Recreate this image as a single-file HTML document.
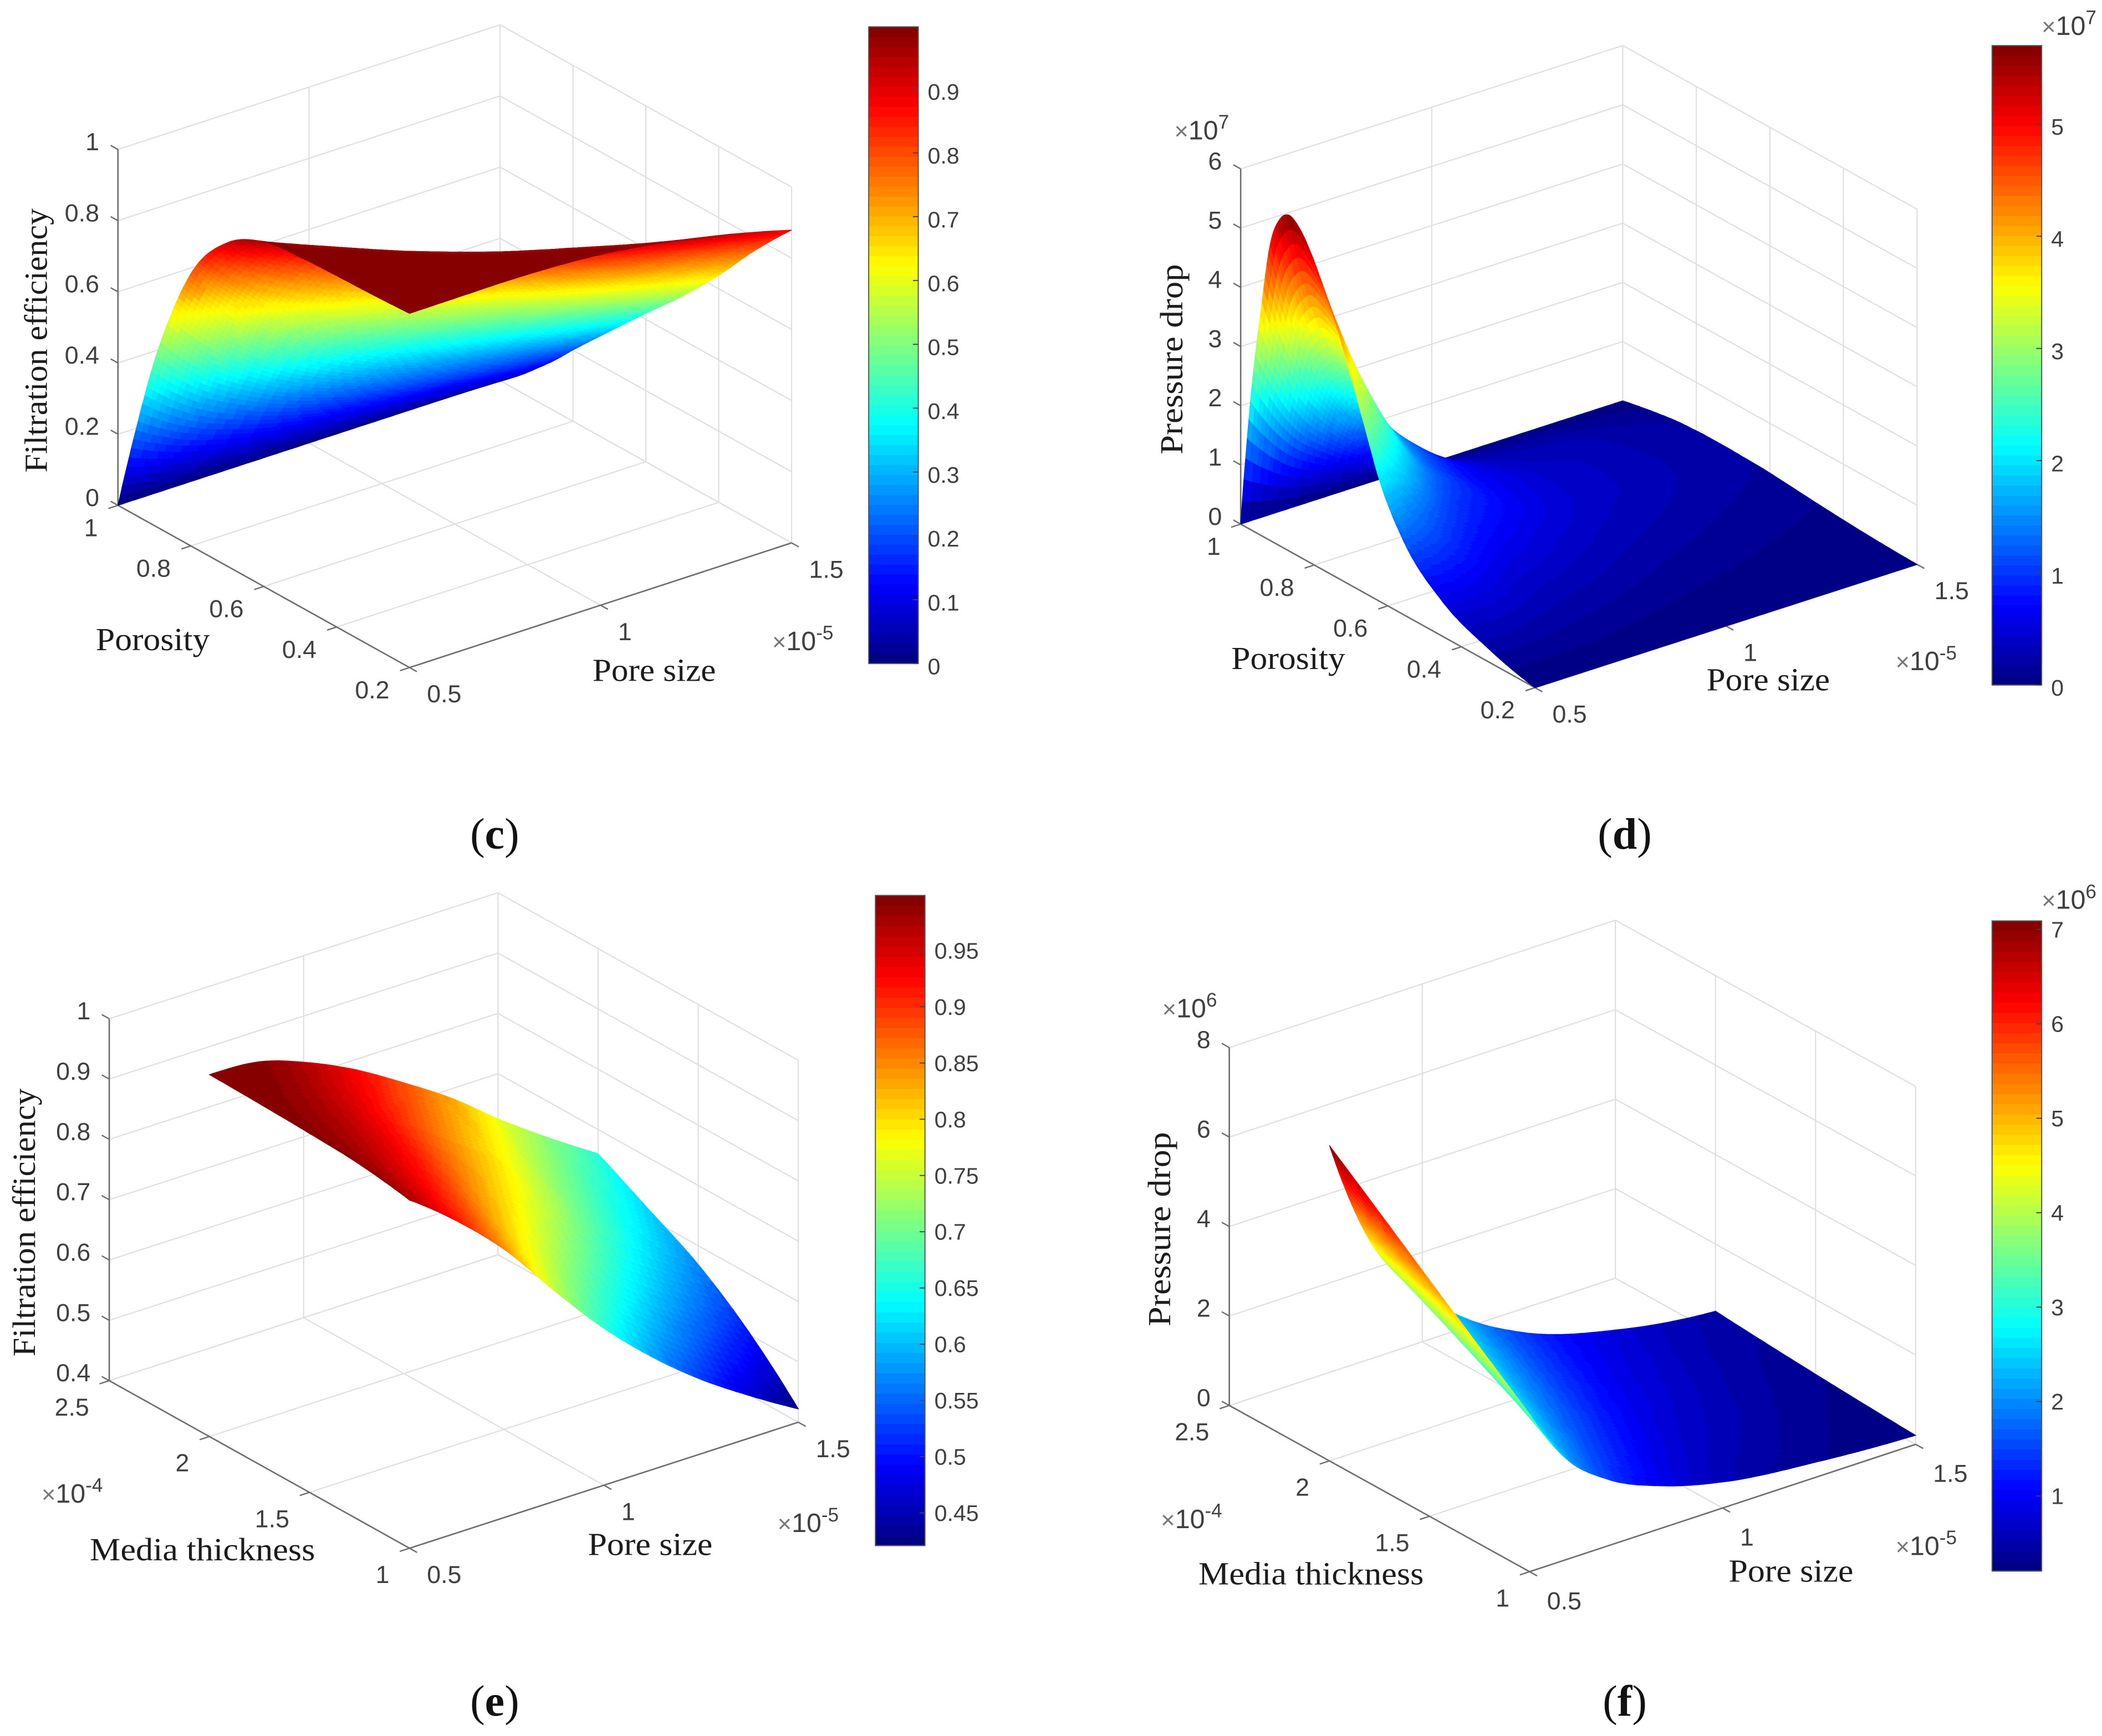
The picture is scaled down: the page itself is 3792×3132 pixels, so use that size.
<!DOCTYPE html>
<html lang="en">
<head>
<meta charset="utf-8">
<title>Filtration efficiency and pressure drop surfaces</title>
<style>
html,body{margin:0;padding:0;background:#fff;}
svg{display:block;}
.axis-title{font-family:"Liberation Serif",serif;font-size:24px;fill:#1c1c1c;}
.caption{font-family:"Liberation Serif",serif;font-size:33px;fill:#111;}
.caption .letter{font-weight:bold;}
.mult{font-family:"Liberation Sans",sans-serif;font-size:20px;fill:#404040;}
.mult .times{font-size:18px;fill:#777;}
.mult .exp{font-size:14.5px;}
</style>
</head>
<body>
<svg id="figure" xmlns="http://www.w3.org/2000/svg" width="3792" height="3132" viewBox="0 0 1568 1295.08">
<rect x="0" y="0" width="1568" height="1296" fill="#fff"/>

<g id="panel-c"></g>
<g id="panel-d"></g>
<g id="panel-e"></g>
<g id="panel-f"></g>

<!-- panel c text -->
<text class="axis-title" transform="translate(35,254) rotate(-90)" text-anchor="middle" textLength="197" lengthAdjust="spacingAndGlyphs">Filtration efficiency</text>
<text class="axis-title" x="114" y="485" text-anchor="middle" textLength="85" lengthAdjust="spacingAndGlyphs">Porosity</text>
<text class="axis-title" x="488" y="508" text-anchor="middle" textLength="92" lengthAdjust="spacingAndGlyphs">Pore size</text>
<text class="mult" x="576" y="485"><tspan class="times">×</tspan>10<tspan class="exp" dy="-8">-5</tspan></text>
<text class="caption" x="369" y="633" text-anchor="middle">(<tspan class="letter">c</tspan>)</text>

<!-- panel d text -->
<text class="axis-title" transform="translate(882,268) rotate(-90)" text-anchor="middle" textLength="142" lengthAdjust="spacingAndGlyphs">Pressure drop</text>
<text class="axis-title" x="961" y="499" text-anchor="middle" textLength="85" lengthAdjust="spacingAndGlyphs">Porosity</text>
<text class="axis-title" x="1319" y="515" text-anchor="middle" textLength="92" lengthAdjust="spacingAndGlyphs">Pore size</text>
<text class="mult" x="1414" y="500"><tspan class="times">×</tspan>10<tspan class="exp" dy="-8">-5</tspan></text>
<text class="mult" x="876" y="104"><tspan class="times">×</tspan>10<tspan class="exp" dy="-8">7</tspan></text>
<text class="mult" x="1523" y="26"><tspan class="times">×</tspan>10<tspan class="exp" dy="-8">7</tspan></text>
<text class="caption" x="1212" y="633" text-anchor="middle">(<tspan class="letter">d</tspan>)</text>

<!-- panel e text -->
<text class="axis-title" transform="translate(26,912) rotate(-90)" text-anchor="middle" textLength="200" lengthAdjust="spacingAndGlyphs">Filtration efficiency</text>
<text class="axis-title" x="151" y="1164" text-anchor="middle" textLength="168" lengthAdjust="spacingAndGlyphs">Media thickness</text>
<text class="axis-title" x="485" y="1160" text-anchor="middle" textLength="93" lengthAdjust="spacingAndGlyphs">Pore size</text>
<text class="mult" x="580" y="1143"><tspan class="times">×</tspan>10<tspan class="exp" dy="-8">-5</tspan></text>
<text class="mult" x="31" y="1121"><tspan class="times">×</tspan>10<tspan class="exp" dy="-8">-4</tspan></text>
<text class="caption" x="369" y="1280" text-anchor="middle">(<tspan class="letter">e</tspan>)</text>

<!-- panel f text -->
<text class="axis-title" transform="translate(873,917) rotate(-90)" text-anchor="middle" textLength="145" lengthAdjust="spacingAndGlyphs">Pressure drop</text>
<text class="axis-title" x="978" y="1182" text-anchor="middle" textLength="168" lengthAdjust="spacingAndGlyphs">Media thickness</text>
<text class="axis-title" x="1336" y="1180" text-anchor="middle" textLength="93" lengthAdjust="spacingAndGlyphs">Pore size</text>
<text class="mult" x="1414" y="1160"><tspan class="times">×</tspan>10<tspan class="exp" dy="-8">-5</tspan></text>
<text class="mult" x="866" y="1140"><tspan class="times">×</tspan>10<tspan class="exp" dy="-8">-4</tspan></text>
<text class="mult" x="867" y="759"><tspan class="times">×</tspan>10<tspan class="exp" dy="-8">6</tspan></text>
<text class="mult" x="1523" y="678"><tspan class="times">×</tspan>10<tspan class="exp" dy="-8">6</tspan></text>
<text class="caption" x="1212" y="1280" text-anchor="middle">(<tspan class="letter">f</tspan>)</text>
</svg>

<script>
/* ---------- tick values and labels ---------- */
var poreTicks = [0.5, 1, 1.5];
var poreTickLabels = ['0.5', '1', '1.5'];
var porosityTicks = [0.2, 0.4, 0.6, 0.8, 1];
var porosityTickLabels = ['0.2', '0.4', '0.6', '0.8', '1'];
var thicknessTicks = [1, 1.5, 2, 2.5];
var thicknessTickLabels = ['1', '1.5', '2', '2.5'];

var effZTicksC = [0, 0.2, 0.4, 0.6, 0.8, 1];
var effZTickLabelsC = ['0', '0.2', '0.4', '0.6', '0.8', '1'];
var dropZTicksD = [0, 1, 2, 3, 4, 5, 6];
var dropZTickLabelsD = ['0', '1', '2', '3', '4', '5', '6'];
var effZTicksE = [0.4, 0.5, 0.6, 0.7, 0.8, 0.9, 1];
var effZTickLabelsE = ['0.4', '0.5', '0.6', '0.7', '0.8', '0.9', '1'];
var dropZTicksF = [0, 2, 4, 6, 8];
var dropZTickLabelsF = ['0', '2', '4', '6', '8'];

var colorbarTicksC = [0, 0.1, 0.2, 0.3, 0.4, 0.5, 0.6, 0.7, 0.8, 0.9];
var colorbarLabelsC = ['0', '0.1', '0.2', '0.3', '0.4', '0.5', '0.6', '0.7', '0.8', '0.9'];
var colorbarTicksD = [0, 1, 2, 3, 4, 5];
var colorbarLabelsD = ['0', '1', '2', '3', '4', '5'];
var colorbarTicksE = [0.45, 0.5, 0.55, 0.6, 0.65, 0.7, 0.75, 0.8, 0.85, 0.9, 0.95];
var colorbarLabelsE = ['0.45', '0.5', '0.55', '0.6', '0.65', '0.7', '0.75', '0.8', '0.85', '0.9', '0.95'];
var colorbarTicksF = [1, 2, 3, 4, 5, 6, 7];
var colorbarLabelsF = ['1', '2', '3', '4', '5', '6', '7'];

/* ---------- surface values ---------- */
var surfacePoreC = [0.5, 0.625, 0.75, 1, 1.25, 1.5];
var surfacePorosityC = [0.2, 0.3, 0.4, 0.5, 0.6, 0.7, 0.8, 0.85, 0.9, 0.95, 1];
var efficiencyC = [
  [0.995, 0.996, 0.997, 0.985, 0.944, 0.879],
  [0.990, 0.994, 0.991, 0.945, 0.861, 0.765],
  [0.987, 0.989, 0.963, 0.869, 0.750, 0.638],
  [0.982, 0.962, 0.909, 0.772, 0.635, 0.522],
  [0.968, 0.908, 0.826, 0.660, 0.520, 0.417],
  [0.909, 0.806, 0.699, 0.522, 0.396, 0.309],
  [0.765, 0.628, 0.516, 0.360, 0.263, 0.200],
  [0.632, 0.493, 0.393, 0.265, 0.189, 0.143],
  [0.462, 0.343, 0.267, 0.174, 0.122, 0.091],
  [0.244, 0.173, 0.131, 0.083, 0.057, 0.042],
  [0, 0, 0, 0, 0, 0]
];

var surfacePoreD = [0.5, 0.6, 0.7, 0.85, 1, 1.25, 1.5];
var surfacePorosityD = [0.2, 0.33, 0.45, 0.56, 0.62, 0.67, 0.726, 0.78, 0.81, 0.84, 0.87, 0.895, 0.92, 0.945, 0.97, 1];
var pressureD = [
  [0.00, 0.00, 0.00, 0, 0, 0, 0],
  [0.23, 0.22, 0.19, 0.14, 0.10, 0.06, 0.03],
  [0.58, 0.55, 0.42, 0.32, 0.23, 0.14, 0.08],
  [1.27, 1.05, 0.75, 0.52, 0.37, 0.23, 0.14],
  [2.00, 1.40, 0.97, 0.65, 0.45, 0.28, 0.17],
  [2.95, 1.95, 1.20, 0.75, 0.50, 0.31, 0.18],
  [4.00, 2.60, 1.55, 0.83, 0.52, 0.32, 0.19],
  [4.85, 3.05, 1.80, 0.88, 0.53, 0.32, 0.19],
  [5.25, 3.25, 1.95, 0.93, 0.51, 0.31, 0.18],
  [5.55, 3.35, 2.05, 0.98, 0.48, 0.30, 0.17],
  [5.67, 3.40, 2.10, 1.00, 0.44, 0.28, 0.15],
  [5.50, 3.25, 2.00, 0.95, 0.38, 0.24, 0.125],
  [5.00, 2.95, 1.82, 0.82, 0.32, 0.20, 0.10],
  [3.80, 2.20, 1.38, 0.62, 0.24, 0.15, 0.07],
  [2.40, 1.38, 0.85, 0.38, 0.15, 0.09, 0.04],
  [0, 0, 0, 0, 0, 0, 0]
];

var surfacePoreE = [0.5, 0.625, 0.75, 0.875, 1, 1.125, 1.25, 1.375, 1.5];
var surfaceThicknessE = [1, 1.25, 1.5, 1.75, 2];
var efficiencyE = [
  [0.977, 0.915, 0.840, 0.747, 0.660, 0.586, 0.523, 0.470, 0.422],
  [0.990, 0.943, 0.885, 0.811, 0.738, 0.671, 0.609, 0.555, 0.505],
  [0.995, 0.965, 0.919, 0.860, 0.798, 0.737, 0.675, 0.620, 0.569],
  [0.998, 0.980, 0.944, 0.895, 0.840, 0.784, 0.721, 0.666, 0.615],
  [1.000, 0.995, 0.968, 0.930, 0.882, 0.830, 0.768, 0.712, 0.660]
];

var surfacePoreF = [0.5, 0.6, 0.7, 0.85, 1, 1.25, 1.5];
var surfaceThicknessF = [1, 1.25, 1.5, 1.75, 2];
var pressureF = [
  [3.52, 2.20, 1.50, 0.92, 0.58, 0.33, 0.20],
  [4.40, 2.83, 1.98, 1.24, 0.80, 0.45, 0.26],
  [5.28, 3.45, 2.45, 1.56, 1.02, 0.57, 0.33],
  [6.17, 4.08, 2.93, 1.88, 1.23, 0.68, 0.41],
  [7.05, 4.70, 3.40, 2.20, 1.45, 0.80, 0.50]
];

/* ---------- helpers ---------- */
var NS = 'http://www.w3.org/2000/svg';

function jetColor(t) {
  var level = Math.min(63, Math.max(0, Math.floor(t * 64)));
  var v = (level + 0.5) / 64;
  function ch(c) {
    var a = 1.5 - Math.abs(4 * v - c);
    a = Math.max(0, Math.min(1, a));
    return Math.round(a * 255);
  }
  return 'rgb(' + ch(3) + ',' + ch(2) + ',' + ch(1) + ')';
}

function smoothInterp(xs, ys, x) {
  var n = xs.length, i = 0;
  while (i < n - 2 && x > xs[i + 1]) i++;
  var h = [], d = [];
  for (var k = 0; k < n - 1; k++) {
    h.push(xs[k + 1] - xs[k]);
    d.push((ys[k + 1] - ys[k]) / h[k]);
  }
  function endSlope(h0, h1, d0, d1) {
    var s = ((2 * h0 + h1) * d0 - h0 * d1) / (h0 + h1);
    if (s * d0 <= 0) return 0;
    return s;
  }
  function slope(j) {
    if (j === 0) return endSlope(h[0], h[1], d[0], d[1]);
    if (j === n - 1) return endSlope(h[n - 2], h[n - 3], d[n - 2], d[n - 3]);
    var c = (h[j] * d[j - 1] + h[j - 1] * d[j]) / (h[j - 1] + h[j]);
    var m = Math.min(Math.abs(d[j - 1]), Math.abs(d[j]));
    var limit = d[j - 1] * d[j] > 0 ? 3 * m : m;
    return Math.max(-limit, Math.min(limit, c));
  }
  var hh = h[i], t = (x - xs[i]) / hh;
  var t2 = t * t, t3 = t2 * t;
  return (2 * t3 - 3 * t2 + 1) * ys[i] + (t3 - 2 * t2 + t) * hh * slope(i) +
         (-2 * t3 + 3 * t2) * ys[i + 1] + (t3 - t2) * hh * slope(i + 1);
}

function makeProjection(origin, ex, ey, ez, xRange, yRange, zRange) {
  return function (x, y, z) {
    var u = (x - xRange[0]) / (xRange[1] - xRange[0]);
    var v = (y - yRange[0]) / (yRange[1] - yRange[0]);
    var w = (z - zRange[0]) / (zRange[1] - zRange[0]);
    return [origin[0] + u * ex[0] + v * ey[0] + w * ez[0],
            origin[1] + u * ex[1] + v * ey[1] + w * ez[1]];
  };
}

function addLine(g, a, b, color, width, name) {
  var el = document.createElementNS(NS, 'line');
  
  
  el.setAttribute('x1', a[0].toFixed(2));
  el.setAttribute('y1', a[1].toFixed(2));
  el.setAttribute('x2', b[0].toFixed(2));
  el.setAttribute('y2', b[1].toFixed(2));
  el.setAttribute('stroke', color);
  el.setAttribute('stroke-width', width);
  g.appendChild(el);
}

function addLabel(g, x, y, str, anchor, size, name) {
  var el = document.createElementNS(NS, 'text');
  
  
  el.setAttribute('x', x.toFixed(2));
  el.setAttribute('y', y.toFixed(2));
  el.setAttribute('text-anchor', anchor);
  el.setAttribute('font-family', '"Liberation Sans", sans-serif');
  el.setAttribute('font-size', size);
  el.setAttribute('fill', '#404040');
  el.textContent = str;
  g.appendChild(el);
}

function drawAxes(g, P, spec) {
  var xr = spec.xRange, yr = spec.yRange, zr = spec.zRange;
  var grid = '#dfdfdf', axis = '#6e6e6e';
  spec.xTicks.forEach(function (x) {
    addLine(g, P(x, yr[0], zr[0]), P(x, yr[1], zr[0]), grid, 0.9, 'floor-gridline');
    addLine(g, P(x, yr[1], zr[0]), P(x, yr[1], zr[1]), grid, 0.9, 'back-wall-gridline');
  });
  spec.yTicks.forEach(function (y) {
    addLine(g, P(xr[0], y, zr[0]), P(xr[1], y, zr[0]), grid, 0.9, 'floor-gridline');
    addLine(g, P(xr[1], y, zr[0]), P(xr[1], y, zr[1]), grid, 0.9, 'side-wall-gridline');
  });
  spec.zTicks.forEach(function (z) {
    addLine(g, P(xr[0], yr[1], z), P(xr[1], yr[1], z), grid, 0.9, 'back-wall-gridline');
    addLine(g, P(xr[1], yr[1], z), P(xr[1], yr[0], z), grid, 0.9, 'side-wall-gridline');
  });
  addLine(g, P(xr[0], yr[1], zr[0]), P(xr[0], yr[1], zr[1]), axis, 1.1, 'z-axis-line');
  addLine(g, P(xr[0], yr[0], zr[0]), P(xr[0], yr[1], zr[0]), axis, 1.1, 'y-axis-line');
  addLine(g, P(xr[0], yr[0], zr[0]), P(xr[1], yr[0], zr[0]), axis, 1.1, 'x-axis-line');

  var xSpan = xr[1] - xr[0], ySpan = yr[1] - yr[0];
  spec.zTicks.forEach(function (z, i) {
    var a = P(xr[0], yr[1], z);
    var b = P(xr[0], yr[1] + ySpan * 0.025, z);
    addLine(g, a, b, axis, 1, 'z-tick');
    addLabel(g, a[0] - 14, a[1] + 0.5, spec.zLabels[i], 'end', 18.5, 'z-tick-label');
  });
  spec.yTicks.forEach(function (y, i) {
    var a = P(xr[0], y, zr[0]);
    var b = P(xr[0] - xSpan * 0.025, y, zr[0]);
    addLine(g, a, b, axis, 1, 'y-tick');
    addLabel(g, a[0] - 15, a[1] + spec.yLabelDrop, spec.yLabels[i], 'end', 18.5, 'y-tick-label');
  });
  spec.xTicks.forEach(function (x, i) {
    var a = P(x, yr[0], zr[0]);
    var b = P(x, yr[0] - ySpan * 0.025, zr[0]);
    addLine(g, a, b, axis, 1, 'x-tick');
    addLabel(g, a[0] + 13, a[1] + spec.xLabelDrop, spec.xLabels[i], 'start', 18.5, 'x-tick-label');
  });
}

function drawSurface(g, P, xs, ys, zs, cmin, cmax, nx, ny) {
  var frag = document.createDocumentFragment();
  var fine = [], fy = [], fx = [], i, j;
  for (i = 0; i <= nx; i++) fx.push(xs[0] + (xs[xs.length - 1] - xs[0]) * i / nx);
  for (j = 0; j <= ny; j++) fy.push(ys[0] + (ys[ys.length - 1] - ys[0]) * j / ny);
  var columns = xs.map(function (_, c) { return zs.map(function (row) { return row[c]; }); });
  for (j = 0; j <= ny; j++) {
    var col = [];
    for (i = 0; i < xs.length; i++) col.push(smoothInterp(ys, columns[i], fy[j]));
    var rowOut = [];
    for (i = 0; i <= nx; i++) rowOut.push(smoothInterp(xs, col, fx[i]));
    fine.push(rowOut);
  }
  for (j = ny - 1; j >= 0; j--) {
    for (i = nx - 1; i >= 0; i--) {
      var z00 = fine[j][i], z10 = fine[j][i + 1], z01 = fine[j + 1][i], z11 = fine[j + 1][i + 1];
      var a = P(fx[i], fy[j], z00), b = P(fx[i + 1], fy[j], z10);
      var c = P(fx[i + 1], fy[j + 1], z11), d = P(fx[i], fy[j + 1], z01);
      var mean = (z00 + z10 + z01 + z11) / 4;
      var col2 = jetColor((mean - cmin) / (cmax - cmin));
      var poly = document.createElementNS(NS, 'polygon');
      
      
      poly.setAttribute('points',
        a[0].toFixed(1) + ',' + a[1].toFixed(1) + ' ' + b[0].toFixed(1) + ',' + b[1].toFixed(1) + ' ' +
        c[0].toFixed(1) + ',' + c[1].toFixed(1) + ' ' + d[0].toFixed(1) + ',' + d[1].toFixed(1));
      poly.setAttribute('fill', col2);
      poly.setAttribute('stroke', col2);
      poly.setAttribute('stroke-width', '0.5');
      frag.appendChild(poly);
    }
  }
  g.appendChild(frag);
}

function drawColorbar(g, box, vmin, vmax, ticks, labels, labelDrop) {
  var x = box[0], y0 = box[1], w = box[2], h = box[3];
  for (var k = 0; k < 64; k++) {
    var r = document.createElementNS(NS, 'rect');
    
    
    r.setAttribute('x', x);
    r.setAttribute('y', (y0 + h - (k + 1) * h / 64).toFixed(2));
    r.setAttribute('width', w);
    r.setAttribute('height', (h / 64 + 0.4).toFixed(2));
    r.setAttribute('fill', jetColor((k + 0.5) / 64));
    g.appendChild(r);
  }
  var frame = document.createElementNS(NS, 'rect');
  
  
  frame.setAttribute('x', x);
  frame.setAttribute('y', y0);
  frame.setAttribute('width', w);
  frame.setAttribute('height', h);
  frame.setAttribute('fill', 'none');
  frame.setAttribute('stroke', '#555');
  frame.setAttribute('stroke-width', '0.8');
  g.appendChild(frame);
  ticks.forEach(function (v, i) {
    var yy = y0 + h - (v - vmin) / (vmax - vmin) * h;
    addLine(g, [x + w - 4, yy], [x + w, yy], '#444', 0.8, 'colorbar-tick');
    addLabel(g, x + w + 7, yy + labelDrop, labels[i], 'start', 17, 'colorbar-tick-label');
  });
}

/* ---------- panel c ---------- */
(function () {
  var g = document.getElementById('panel-c');
  var spec = { xRange: [0.5, 1.5], yRange: [0.2, 1], zRange: [0, 1],
    xTicks: poreTicks, xLabels: poreTickLabels,
    yTicks: porosityTicks, yLabels: porosityTickLabels,
    zTicks: effZTicksC, zLabels: effZTickLabelsC,
    xLabelDrop: 26, yLabelDrop: 23 };
  var P = makeProjection([305.5, 498], [285, -93], [-217.5, -121], [0, -265.5], spec.xRange, spec.yRange, spec.zRange);
  drawAxes(g, P, spec);
  drawSurface(g, P, surfacePoreC, surfacePorosityC, efficiencyC, 0, 0.985, 70, 130);
  drawColorbar(g, [648, 20, 37, 475], 0, 0.9975, colorbarTicksC, colorbarLabelsC, 8);
})();

/* ---------- panel d ---------- */
(function () {
  var g = document.getElementById('panel-d');
  var spec = { xRange: [0.5, 1.5], yRange: [0.2, 1], zRange: [0, 6],
    xTicks: poreTicks, xLabels: poreTickLabels,
    yTicks: porosityTicks, yLabels: porosityTickLabels,
    zTicks: dropZTicksD, zLabels: dropZTickLabelsD,
    xLabelDrop: 26, yLabelDrop: 23 };
  var P = makeProjection([1145, 513], [285, -92], [-219.5, -122], [0, -265], spec.xRange, spec.yRange, spec.zRange);
  drawAxes(g, P, spec);
  drawSurface(g, P, surfacePoreD, surfacePorosityD, pressureD, 0, 5.7, 100, 180);
  drawColorbar(g, [1486, 34, 37, 477], 0, 5.7, colorbarTicksD, colorbarLabelsD, 8);
})();

/* ---------- panel e ---------- */
(function () {
  var g = document.getElementById('panel-e');
  var spec = { xRange: [0.5, 1.5], yRange: [1, 2.5], zRange: [0.4, 1],
    xTicks: poreTicks, xLabels: poreTickLabels,
    yTicks: thicknessTicks, yLabels: thicknessTickLabels,
    zTicks: effZTicksE, zLabels: effZTickLabelsE,
    xLabelDrop: 26, yLabelDrop: 26 };
  var P = makeProjection([305.5, 1155], [290, -94], [-224, -125], [0, -270], spec.xRange, spec.yRange, spec.zRange);
  drawAxes(g, P, spec);
  drawSurface(g, P, surfacePoreE, surfaceThicknessE, efficiencyE, 0.421, 0.999, 100, 40);
  drawColorbar(g, [653, 668, 37, 485], 0.421, 0.999, colorbarTicksE, colorbarLabelsE, 6);
})();

/* ---------- panel f ---------- */
(function () {
  var g = document.getElementById('panel-f');
  var spec = { xRange: [0.5, 1.5], yRange: [1, 2.5], zRange: [0, 8],
    xTicks: poreTicks, xLabels: poreTickLabels,
    yTicks: thicknessTicks, yLabels: thicknessTickLabels,
    zTicks: dropZTicksF, zLabels: dropZTickLabelsF,
    xLabelDrop: 28, yLabelDrop: 26 };
  var P = makeProjection([1141, 1172.5], [288, -95], [-224, -124], [0, -267], spec.xRange, spec.yRange, spec.zRange);
  drawAxes(g, P, spec);
  drawSurface(g, P, surfacePoreF, surfaceThicknessF, pressureF, 0.206, 7.09, 120, 40);
  drawColorbar(g, [1486, 687, 37, 485], 0.206, 7.09, colorbarTicksF, colorbarLabelsF, 6);
})();
</script>
</body>
</html>
